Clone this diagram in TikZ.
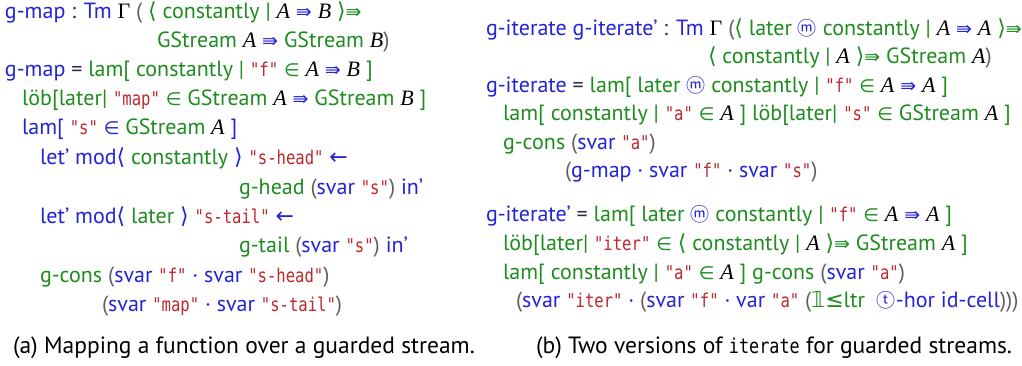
\documentclass[tikz,border=0pt]{standalone}
\usepackage{fontspec}
\setmainfont{PT Sans}
\newfontfamily\symfont{DejaVu Sans}
\newfontfamily\circfont{Noto Sans CJK JP}
\newfontfamily\serfont{Liberation Serif}
\newfontfamily\codefont[FakeStretch=0.82]{DejaVu Sans Mono}
\definecolor{cblue}{RGB}{35,35,215}
\definecolor{cgreen}{RGB}{30,140,30}
\definecolor{cred}{RGB}{190,40,45}
\definecolor{cgry}{RGB}{95,95,95}
\definecolor{cdark}{RGB}{45,45,70}
\newcommand\blu[1]{\textcolor{cblue}{#1}}
\newcommand\grn[1]{\textcolor{cgreen}{#1}}
\newcommand\gry[1]{\textcolor{cgry}{#1}}
\newcommand\dk[1]{\textcolor{cdark}{#1}}
\newcommand\str[1]{\textcolor{cred}{{\fontsize{19}{22}\codefont "#1"}}}
\newcommand\mvar[1]{\textcolor{black}{{\serfont\itshape #1}}}
\newcommand\gam{\textcolor{black}{{\serfont Γ}}}
\newcommand\impl{{\symfont\fontsize{19}{22}\selectfont ⇛}}
\newcommand\lang{{\symfont ⟨}}
\newcommand\rang{{\symfont ⟩}}
\newcommand\mem{{\symfont\fontsize{18}{22}\selectfont ∈}}
\newcommand\larr{{\symfont ←}}
\newcommand\modc{{\circfont\fontsize{19}{22}\selectfont ⓜ}}
\newcommand\tcirc{{\circfont\fontsize{19}{22}\selectfont ⓣ}}
\newcommand\onebb{{\symfont 𝟙}}
\newcommand\leqs{{\symfont ≤}}
\tikzset{ln/.style={anchor=base west, inner sep=0pt, outer sep=0pt, font=\fontsize{22}{26}\selectfont},
  capt/.style={ln, font=\fontsize{23.5}{27}\selectfont}}
\begin{document}
\begin{tikzpicture}[x=1pt,y=-1pt]
\useasboundingbox[fill=white] (0,0) rectangle (1022,366);
% (a)
\node[ln] (l1) at (5,19) {\blu{g-map} \dk{:} \blu{Tm} \gam{} \gry{(} \grn{\lang{} constantly |} \mvar{A} \blu{\impl} \mvar{B} \grn{\rang\impl}};
\node[ln] (l2) at (157,48) {\grn{GStream} \mvar{A} \blu{\impl} \grn{GStream} \mvar{B}\gry{)}};
\node[ln] (l3) at (5,77) {\blu{g-map} \dk{=} \grn{lam[ constantly |} \str{f} \grn{\mem} \mvar{A} \blu{\impl} \mvar{B} \grn{]}};
\node[ln] (l4) at (22,106) {\grn{löb[later|} \str{map} \grn{\mem{} GStream} \mvar{A} \blu{\impl} \grn{GStream} \mvar{B} \grn{]}};
\node[ln] (l5) at (22,135) {\blu{lam[} \str{s} \blu{\mem} \grn{GStream} \mvar{A} \blu{]}};
\node[ln] (l6) at (40,165) {\blu{let' mod\lang} \grn{constantly} \blu{\rang} \str{s-head} \blu{\larr}};
\node[ln] (l7) at (239,194) {\grn{g-head} \gry{(}\blu{svar} \str{s}\gry{)} \blu{in'}};
\node[ln] (l8) at (40,223) {\blu{let' mod\lang} \grn{later} \blu{\rang} \str{s-tail} \blu{\larr}};
\node[ln] (l9) at (239,252) {\grn{g-tail} \gry{(}\blu{svar} \str{s}\gry{)} \blu{in'}};
\node[ln] (l10) at (40,282) {\grn{g-cons} \gry{(}\blu{svar} \str{f} \blu{· svar} \str{s-head}\gry{)}};
\node[ln] (l11) at (102,311) {\gry{(}\blu{svar} \str{map} \blu{· svar} \str{s-tail}\gry{)}};
\node[capt] (capa) at (13,353) {(a) Mapping a function over a guarded stream.};
% (b)
\node[ln] (r1) at (486,36) {\blu{g-iterate g-iterate'} \dk{:} \blu{Tm} \gam{} \gry{(}\grn{\lang{} later} \blu{\modc} \grn{constantly |} \mvar{A} \blu{\impl} \mvar{A} \grn{\rang\impl}};
\node[ln] (r2) at (708,64) {\grn{\lang{} constantly |} \mvar{A} \grn{\rang\impl{} GStream} \mvar{A}\gry{)}};
\node[ln] (r3) at (486,93) {\blu{g-iterate} \dk{=} \grn{lam[ later} \blu{\modc} \grn{constantly |} \str{f} \grn{\mem} \mvar{A} \blu{\impl} \mvar{A} \grn{]}};
\node[ln] (r4) at (503,121) {\grn{lam[ constantly |} \str{a} \grn{\mem} \mvar{A} \grn{] löb[later|} \str{s} \grn{\mem{} GStream} \mvar{A} \grn{]}};
\node[ln] (r5) at (503,150) {\grn{g-cons} \gry{(}\blu{svar} \str{a}\gry{)}};
\node[ln] (r6) at (565,178) {\gry{(}\blu{g-map · svar} \str{f} \blu{· svar} \str{s}\gry{)}};
\node[ln] (r7) at (486,222) {\blu{g-iterate'} \dk{=} \grn{lam[ later} \blu{\modc} \grn{constantly |} \str{f} \grn{\mem} \mvar{A} \blu{\impl} \mvar{A} \grn{]}};
\node[ln] (r8) at (503,250) {\grn{löb[later|} \str{iter} \grn{\mem{} \lang{} constantly |} \mvar{A} \grn{\rang\impl{} GStream} \mvar{A} \grn{]}};
\node[ln] (r9) at (503,279) {\grn{lam[ constantly |} \str{a} \grn{\mem} \mvar{A} \grn{] g-cons} \gry{(}\blu{svar} \str{a}\gry{)}};
\node[ln] (r10) at (516,307) {\gry{(}\blu{svar} \str{iter} \blu{·} \gry{(}\blu{svar} \str{f} \blu{· var} \str{a} \gry{(}\grn{\onebb\leqs ltr}\ \ \blu{\tcirc-hor id-cell}\gry{)))}};
\node[capt, anchor=base east] (capb) at (1012,353) {(b) Two versions of {\fontsize{20.5}{24}\codefont iterate} for guarded streams.};
\end{tikzpicture}
\end{document}
